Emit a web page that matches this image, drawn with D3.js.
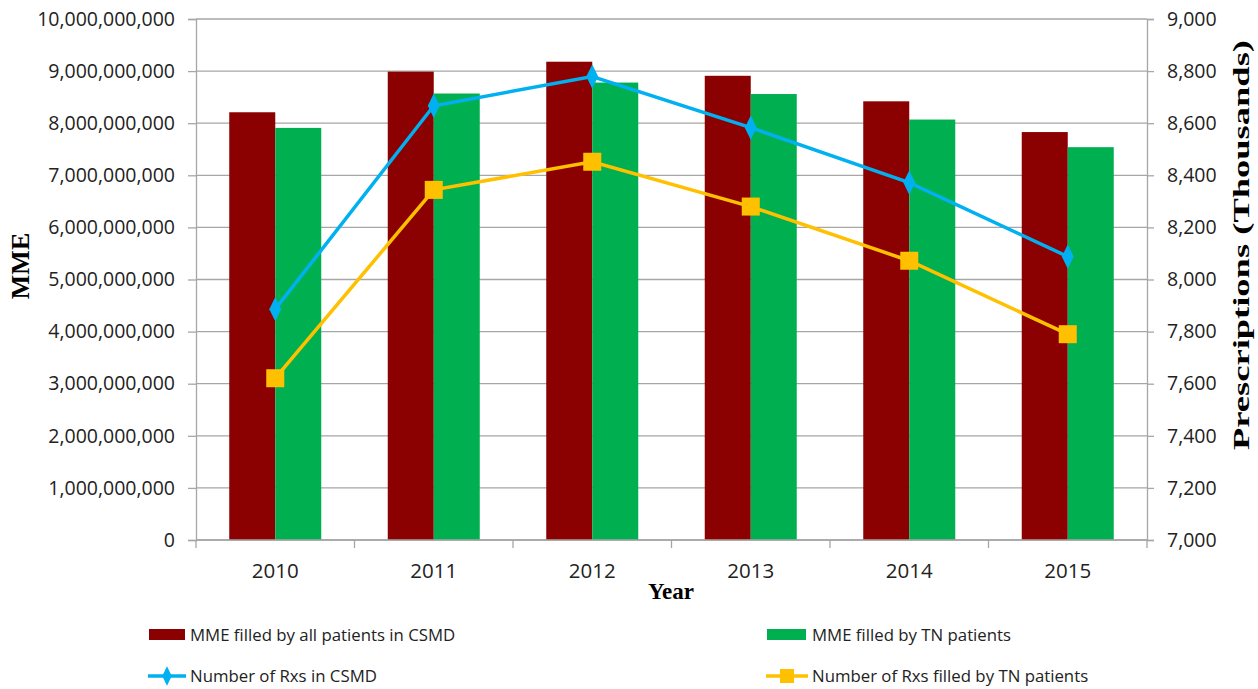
<html>
<script src='https://d3js.org/d3.v7.min.js'></script>
<style>
  body { margin: 0; background: #fff; }
  text { font-family: 'Open Sans', sans-serif; fill: #222; }
  .ttl { font-family: 'Liberation Serif', serif; font-weight: bold; fill: #000; }
</style>
<body>
<svg width=1258 height=689></svg>
<script>
var years = ["2010", "2011", "2012", "2013", "2014", "2015"];
var mmeAll = [8.21e9, 8.99e9, 9.18e9, 8.91e9, 8.42e9, 7.83e9];
var mmeTN = [7.91e9, 8.57e9, 8.78e9, 8.56e9, 8.07e9, 7.54e9];
var rxAll = [7886, 8667, 8779, 8583, 8372, 8088];
var rxTN = [7621, 8344, 8452, 8280, 8072, 7790];
var leftTicks = d3.range(0, 10e9 + 1, 1e9);
var rightTicks = d3.range(7000, 9001, 200);

var svg = d3.select("svg");
var pLeft = 196, pRight = 1147, pTop = 19, pBottom = 540;
var grey = "#a6a6a6";

var x = d3.scaleBand().domain(years).range([pLeft, pRight]);
var y = d3.scaleLinear().domain([0, 10e9]).range([pBottom, pTop]);
var y2 = d3.scaleLinear().domain([7000, 9000]).range([pBottom, pTop]);
var fmt = d3.format(",");
var barW = 46;

// gridlines
svg.append("g").selectAll("line").data(leftTicks).enter().append("line")
  .attr("x1", pLeft).attr("x2", pRight)
  .attr("y1", d => y(d)).attr("y2", d => y(d))
  .attr("stroke", grey).attr("stroke-width", 1.3);

// bars
var g = svg.append("g");
g.selectAll(".a").data(mmeAll).enter().append("rect")
  .attr("x", (d, i) => x(years[i]) + x.bandwidth() / 2 - barW)
  .attr("y", d => y(d)).attr("width", barW).attr("height", d => pBottom - y(d))
  .attr("fill", "#8b0000");
g.selectAll(".b").data(mmeTN).enter().append("rect")
  .attr("x", (d, i) => x(years[i]) + x.bandwidth() / 2)
  .attr("y", d => y(d)).attr("width", barW).attr("height", d => pBottom - y(d))
  .attr("fill", "#00b050");

// axes
var ax = svg.append("g").attr("transform", "translate(" + pLeft + ",0)")
  .call(d3.axisLeft(y).tickValues(leftTicks).tickFormat(fmt).tickSize(8).tickPadding(13));
var ax2 = svg.append("g").attr("transform", "translate(" + pRight + ",0)")
  .call(d3.axisRight(y2).tickValues(rightTicks).tickFormat(fmt).tickSize(7).tickPadding(13));
var ax3 = svg.append("g").attr("transform", "translate(0," + pBottom + ")")
  .call(d3.axisBottom(x).tickSize(0).tickPadding(22));
[ax, ax2, ax3].forEach(function(a) {
  a.selectAll("path").attr("stroke", grey).attr("stroke-width", 1.3);
  a.selectAll("line").attr("stroke", grey).attr("stroke-width", 1.3);
  a.selectAll("text").style("font-size", "19.5px").attr("fill", "#222");
});
ax3.select("path").remove();
ax3.selectAll("text").style("font-size", "20.5px").attr("dy", null).attr("y", 38);
// category boundary ticks
svg.append("g").selectAll("line").data(years.concat(["end"])).enter().append("line")
  .attr("x1", (d, i) => pLeft + i * x.bandwidth()).attr("x2", (d, i) => pLeft + i * x.bandwidth())
  .attr("y1", pBottom).attr("y2", pBottom + 8).attr("stroke", grey).attr("stroke-width", 1.3);
svg.append("line").attr("x1", pLeft).attr("x2", pRight).attr("y1", pBottom).attr("y2", pBottom)
  .attr("stroke", grey).attr("stroke-width", 1.3);

// lines
var cx = d => x(d) + x.bandwidth() / 2;
function drawLine(vals, color) {
  svg.append("path").datum(vals)
    .attr("d", d3.line().x((d, i) => cx(years[i])).y(d => y2(d)))
    .attr("fill", "none").attr("stroke", color).attr("stroke-width", 3.5);
}
drawLine(rxAll, "#00b0f0");
drawLine(rxTN, "#ffc000");
svg.append("g").selectAll("path").data(rxAll).enter().append("path")
  .attr("d", d3.symbol().type(d3.symbolDiamond).size(170))
  .attr("transform", (d, i) => "translate(" + cx(years[i]) + "," + y2(d) + ") scale(0.85,1)")
  .attr("fill", "#00b0f0");
svg.append("g").selectAll("rect").data(rxTN).enter().append("rect")
  .attr("x", (d, i) => cx(years[i]) - 9).attr("y", d => y2(d) - 9)
  .attr("width", 18).attr("height", 18).attr("fill", "#ffc000");

// axis titles
svg.append("text").attr("class", "ttl").attr("transform", "translate(29,266) rotate(-90)")
  .attr("text-anchor", "middle").style("font-size", "26px").text("MME");
svg.append("text").attr("class", "ttl").attr("transform", "translate(1249,245) rotate(-90)")
  .attr("text-anchor", "middle").style("font-size", "23px")
  .attr("textLength", 410).attr("lengthAdjust", "spacingAndGlyphs").text("Prescriptions (Thousands)");
svg.append("text").attr("class", "ttl").attr("x", 671).attr("y", 599)
  .attr("text-anchor", "middle").style("font-size", "23px").text("Year");

// legend
var leg = svg.append("g");
leg.append("rect").attr("x", 149).attr("y", 629).attr("width", 36).attr("height", 11).attr("fill", "#8b0000");
leg.append("rect").attr("x", 767).attr("y", 629).attr("width", 39).attr("height", 11).attr("fill", "#00b050");
leg.append("line").attr("x1", 148).attr("x2", 186).attr("y1", 676).attr("y2", 676).attr("stroke", "#00b0f0").attr("stroke-width", 3.5);
leg.append("path").attr("d", d3.symbol().type(d3.symbolDiamond).size(110)).attr("transform", "translate(167,676) scale(0.85,1)").attr("fill", "#00b0f0");
leg.append("line").attr("x1", 766).attr("x2", 808).attr("y1", 676).attr("y2", 676).attr("stroke", "#ffc000").attr("stroke-width", 3.5);
leg.append("rect").attr("x", 780).attr("y", 669).attr("width", 14).attr("height", 14).attr("fill", "#ffc000");
var legText = [["MME filled by all patients in CSMD", 190, 641], ["MME filled by TN patients", 812, 641],
               ["Number of Rxs in CSMD", 190, 682], ["Number of Rxs filled by TN patients", 812, 682]];
leg.selectAll("text").data(legText).enter().append("text")
  .attr("x", d => d[1]).attr("y", d => d[2]).style("font-size", "16.8px").text(d => d[0]);
</script>
</body>
</html>
